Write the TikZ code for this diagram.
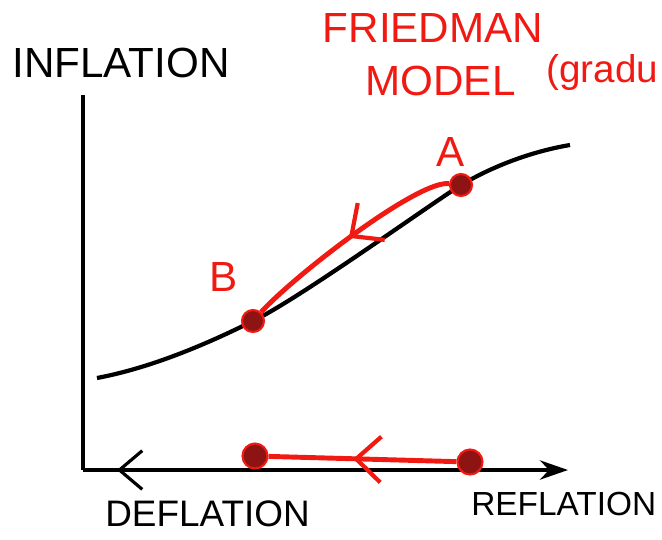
\documentclass[tikz,border=0pt]{standalone}
\usepackage{fontspec}
\setmainfont{Liberation Sans}
\usetikzlibrary{arrows.meta,decorations.markings}
\definecolor{penred}{HTML}{F01A12}
\definecolor{dotred}{HTML}{8E1414}

\begin{document}
\begin{tikzpicture}[x=0.02cm, y=-0.02cm,
    axe/.style={draw=black, line width=1.8pt},
    courbe/.style={draw=black, line width=2.4pt},
    trait/.style={draw=penred, line width=2.8pt},
    pt/.style={circle, fill=dotred, draw=penred, line width=1.2pt,
      minimum size=0.44cm, inner sep=0pt},
    noir/.style={font=\fontsize{24}{26}\selectfont, text=black, inner sep=0pt},
    rouge/.style={font=\fontsize{24}{30}\selectfont, text=penred, inner sep=0pt,
      align=center},
    milieu/.style={decoration={markings, mark=at position #1 with
      {\arrow{Straight Barb[length=14pt,width=26pt,line width=2.4pt]}}},
      postaction=decorate},
    recul/.style={decoration={markings, mark=at position #1 with
      {\arrowreversed{Straight Barb[length=13pt,width=22pt,line width=1.8pt]}}},
      postaction=decorate}
  ]
    \useasboundingbox (0,0) rectangle (662,539);

    \node[noir, anchor=west] (infl) at (12,63) {INFLATION};
    \node[rouge] (titre) at (433,55) {FRIEDMAN\\\hspace*{0.3cm}MODEL};
    \node[rouge, font=\fontsize{22}{24}\selectfont, anchor=west] (grad) at (546,72) {(gradu};
    \node[noir, font=\fontsize{21}{24}\selectfont, anchor=west] (defl) at (105,514) {DEFLATION};
    \node[noir, font=\fontsize{19}{22}\selectfont, anchor=west] (refl) at (471,504) {REFLATION};

    \coordinate (haut) at (83,95);
    \coordinate (orig) at (83,470);
    \coordinate (bout) at (568,470);
    \draw[axe] (haut) -- (orig);
    \draw[axe, -{Stealth[length=16pt,width=11pt]}, recul=0.07] (orig) -- (bout);

    \coordinate (c0) at (97,378);
    \coordinate (b) at (253,321);
    \coordinate (a) at (461,185);
    \coordinate (c1) at (570,145);
    \draw[courbe] (c0) .. controls (150,368) and (205,345) .. (b)
      .. controls (300,298) and (422,210) .. (a)
      .. controls (500,162) and (540,150) .. (c1);

    \node[pt] (A) at (a) {};
    \node[pt] (B) at (b) {};
    \node[rouge] (labA) at (451,152) {A};
    \node[rouge] (labB) at (224,277) {B};
    \draw[trait, milieu=0.5] (A) .. controls (418,180) and (295,275) .. (B);

    \node[pt, minimum size=0.5cm] (R) at (470,462) {};
    \node[pt, minimum size=0.5cm] (L) at (255,456) {};
    \draw[trait, milieu=0.55] (R) -- (L);
\end{tikzpicture}
\end{document}
